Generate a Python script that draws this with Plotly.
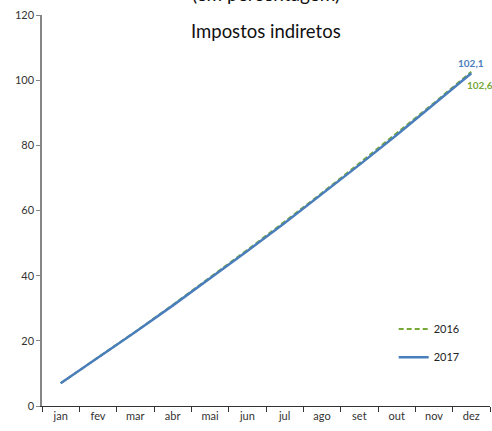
import plotly.graph_objects as go

months = ["jan", "fev", "mar", "abr", "mai", "jun", "jul", "ago", "set", "out", "nov", "dez"]
y2016 = [7.0, 14.9, 22.8, 31.0, 39.4, 47.9, 56.6, 65.4, 74.5, 83.7, 93.0, 102.6]
y2017 = [7.0, 14.8, 22.7, 30.8, 39.1, 47.6, 56.2, 65.0, 74.0, 83.2, 92.6, 102.1]
yticks = [0, 20, 40, 60, 80, 100, 120]

blue = "#4A7EBB"
green = "#77A83A"
font = "Lato, 'Open Sans', sans-serif"

fig = go.Figure()
fig.add_trace(go.Scatter(x=months, y=y2016, mode="lines", name="2016",
                         line=dict(color=green, width=2, dash="5px,3px"), legend="legend"))
fig.add_trace(go.Scatter(x=months, y=y2017, mode="lines", name="2017",
                         line=dict(color=blue, width=2.5), legend="legend2"))

fig.update_layout(
    width=492, height=431,
    margin=dict(l=42, r=2, t=15, b=25),
    paper_bgcolor="white", plot_bgcolor="white",
    font=dict(family=font, size=11, color="#404040"),
    showlegend=True,
    legend=dict(x=0.785, y=0.197, xanchor="left", yanchor="middle", bgcolor="rgba(0,0,0,0)",
                font=dict(size=11, color="#222")),
    legend2=dict(x=0.785, y=0.125, xanchor="left", yanchor="middle", bgcolor="rgba(0,0,0,0)",
                 font=dict(size=11, color="#222")),
)
fig.update_xaxes(type="category", range=[-0.5, 11.5], tickson="boundaries",
                 ticks="outside", ticklen=5, tickcolor="#333", showline=True,
                 linecolor="#333", linewidth=1, showgrid=False, zeroline=False,
                 automargin=False, tickfont=dict(size=11, color="#333"))
fig.update_yaxes(range=[0, 120], tickvals=yticks, ticks="outside", ticklen=4,
                 tickcolor="#868686", showline=True, linecolor="#868686", linewidth=1.5,
                 showgrid=False, zeroline=False, automargin=False,
                 tickfont=dict(size=11, color="#333"))

fig.add_annotation(x=0.5, y=1.054, xref="paper", yref="paper", text="(em percentagem)",
                   showarrow=False, xanchor="center", yanchor="middle",
                   font=dict(size=19, color="#111", family=font))
fig.add_annotation(x=0.5, y=0.959, xref="paper", yref="paper", text="Impostos indiretos",
                   showarrow=False, xanchor="center", yanchor="middle",
                   font=dict(size=18.5, color="#111", family=font))
fig.add_annotation(x=months[-1], y=y2017[-1], text="<b>" + f"{y2017[-1]:.1f}".replace(".", ",") + "</b>",
                   showarrow=False, yshift=10, xshift=0, xanchor="center", yanchor="middle",
                   font=dict(size=10, color=blue, family=font))
fig.add_annotation(x=months[-1], y=y2016[-1], text="<b>" + f"{y2016[-1]:.1f}".replace(".", ",") + "</b>",
                   showarrow=False, yshift=-13, xshift=-6, xanchor="left", yanchor="middle",
                   font=dict(size=10, color=green, family=font))

fig.write_html("out.html", config={"displayModeBar": False},
               post_script="document.body.style.margin='0';")
